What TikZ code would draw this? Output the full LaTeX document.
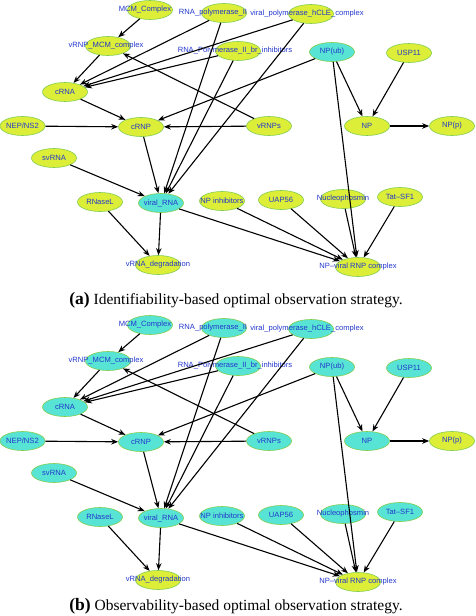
\documentclass[tikz,border=0pt]{standalone}
\usepackage{fontspec}
\setmainfont{Liberation Serif}
\setsansfont{Liberation Sans}
\usepackage{tikz}
\usetikzlibrary{shapes.geometric, arrows.meta}
\definecolor{nodeYellow}{RGB}{220,238,55}
\definecolor{nodeCyan}{RGB}{88,228,212}
\definecolor{rimGreen}{RGB}{130,205,80}
\definecolor{labelBlue}{RGB}{35,55,205}
% label wider than its ellipse; optional kern moves it left by half
\newcommand{\nm}[2][0pt]{\makebox[0pt]{#2\kern#1}}
\tikzstyle{species} = [ellipse, minimum width=45pt, minimum height=19pt, inner sep=0pt, draw=rimGreen, line width=0.6pt, fill=nodeYellow, text=labelBlue, font=\sffamily\fontsize{7.6}{8}\selectfont]
\tikzstyle{measured} = [species, fill=nodeCyan]
\tikzstyle{arrow} = [line width=1.1pt, -{Stealth[length=7pt, width=5.5pt]}, black]

\begin{document}
\begin{tikzpicture}[x=1pt, y=-1pt]
    \useasboundingbox (0,0) rectangle (475,616);
    % (a) identifiability, (b) observability
    \foreach \p/\dy/\vc/\cy/\capt in {a/0/nodeYellow/300/Identifiability, b/315/nodeCyan/291/Observability}{
    \begin{scope}[yshift=-\dy pt]
        \node (\p-mcm) [species, fill=\vc] at (150,10) {\nm[10pt]{MCM\_Complex}};
        \node (\p-pol) [species, fill=\vc] at (224,13) {\nm[22pt]{RNA\_polymerase\_II}};
        \node (\p-hcle) [species, fill=\vc] at (311,14) {\nm[8pt]{viral\_polymerase\_hCLE\_complex}};
        \node (\p-vmcm) [species, fill=\vc] at (108,46) {\nm[4pt]{vRNP\_MCM\_complex}};
        \node (\p-inh) [species, fill=\vc] at (238,51) {\nm[6pt]{RNA\_Polymerase\_II\_br\_inhibitors}};
        \node (\p-npub) [measured] at (332,52) {\nm{NP(ub)}};
        \node (\p-usp) [species, fill=\vc] at (409,53) {\nm{USP11}};
        \node (\p-crna) [species, fill=\vc] at (65,92) {\nm{cRNA}};
        \node (\p-nep) [species, fill=\vc] at (22.5,126) {\nm{NEP/NS2}};
        \node (\p-crnp) [species, fill=\vc] at (141,127) {\nm{cRNP}};
        \node (\p-vrnps) [species, fill=\vc] at (269,126) {\nm{vRNPs}};
        \node (\p-np) [species, fill=\vc] at (367,126) {\nm{NP}};
        \node (\p-npp) [species] at (452,126) {\nm{NP(p)}};
        \node (\p-svrna) [species, fill=\vc] at (54,158) {\nm{svRNA}};
        \node (\p-rnasel) [species, fill=\vc] at (100,202) {\nm{RNaseL}};
        \node (\p-vrna) [measured] at (161,203) {\nm{viral\_RNA}};
        \node (\p-npinh) [species, fill=\vc] at (222,201) {\nm{NP inhibitors}};
        \node (\p-uap) [species, fill=\vc] at (281,200) {\nm{UAP56}};
        \node (\p-nuc) [species, fill=\vc] at (343,199) {\nm{Nucleophosmin}};
        \node (\p-tat) [species, fill=\vc] at (400,197) {\nm{Tat--SF1}};
        \node (\p-deg) [species] at (158,265) {\nm{vRNA\_degradation}};
        \node (\p-rnp) [species] at (358,267) {\nm{NP--viral RNP complex}};

        \foreach \src/\dst in {mcm/vmcm, vmcm/crna, pol/crna, hcle/crna, inh/crna, vrnps/vmcm,
            crna/crnp, nep/crnp, vrnps/crnp, npub/crnp, crnp/vrna, pol/vrna, hcle/vrna, inh/vrna,
            svrna/vrna, npub/np, usp/np, np/npp, npub/rnp, rnasel/deg, vrna/deg, vrna/rnp,
            npinh/rnp, uap/rnp, nuc/rnp, tat/rnp}
            \draw [arrow] (\p-\src) -- (\p-\dst);

        \node (\p-cap) at (236,\cy) {\fontsize{15.5}{17}\selectfont\textbf{\fontsize{17.5}{17}\selectfont(\p)} \capt-based optimal observation strategy.};
    \end{scope}
    }
\end{tikzpicture}
\end{document}
